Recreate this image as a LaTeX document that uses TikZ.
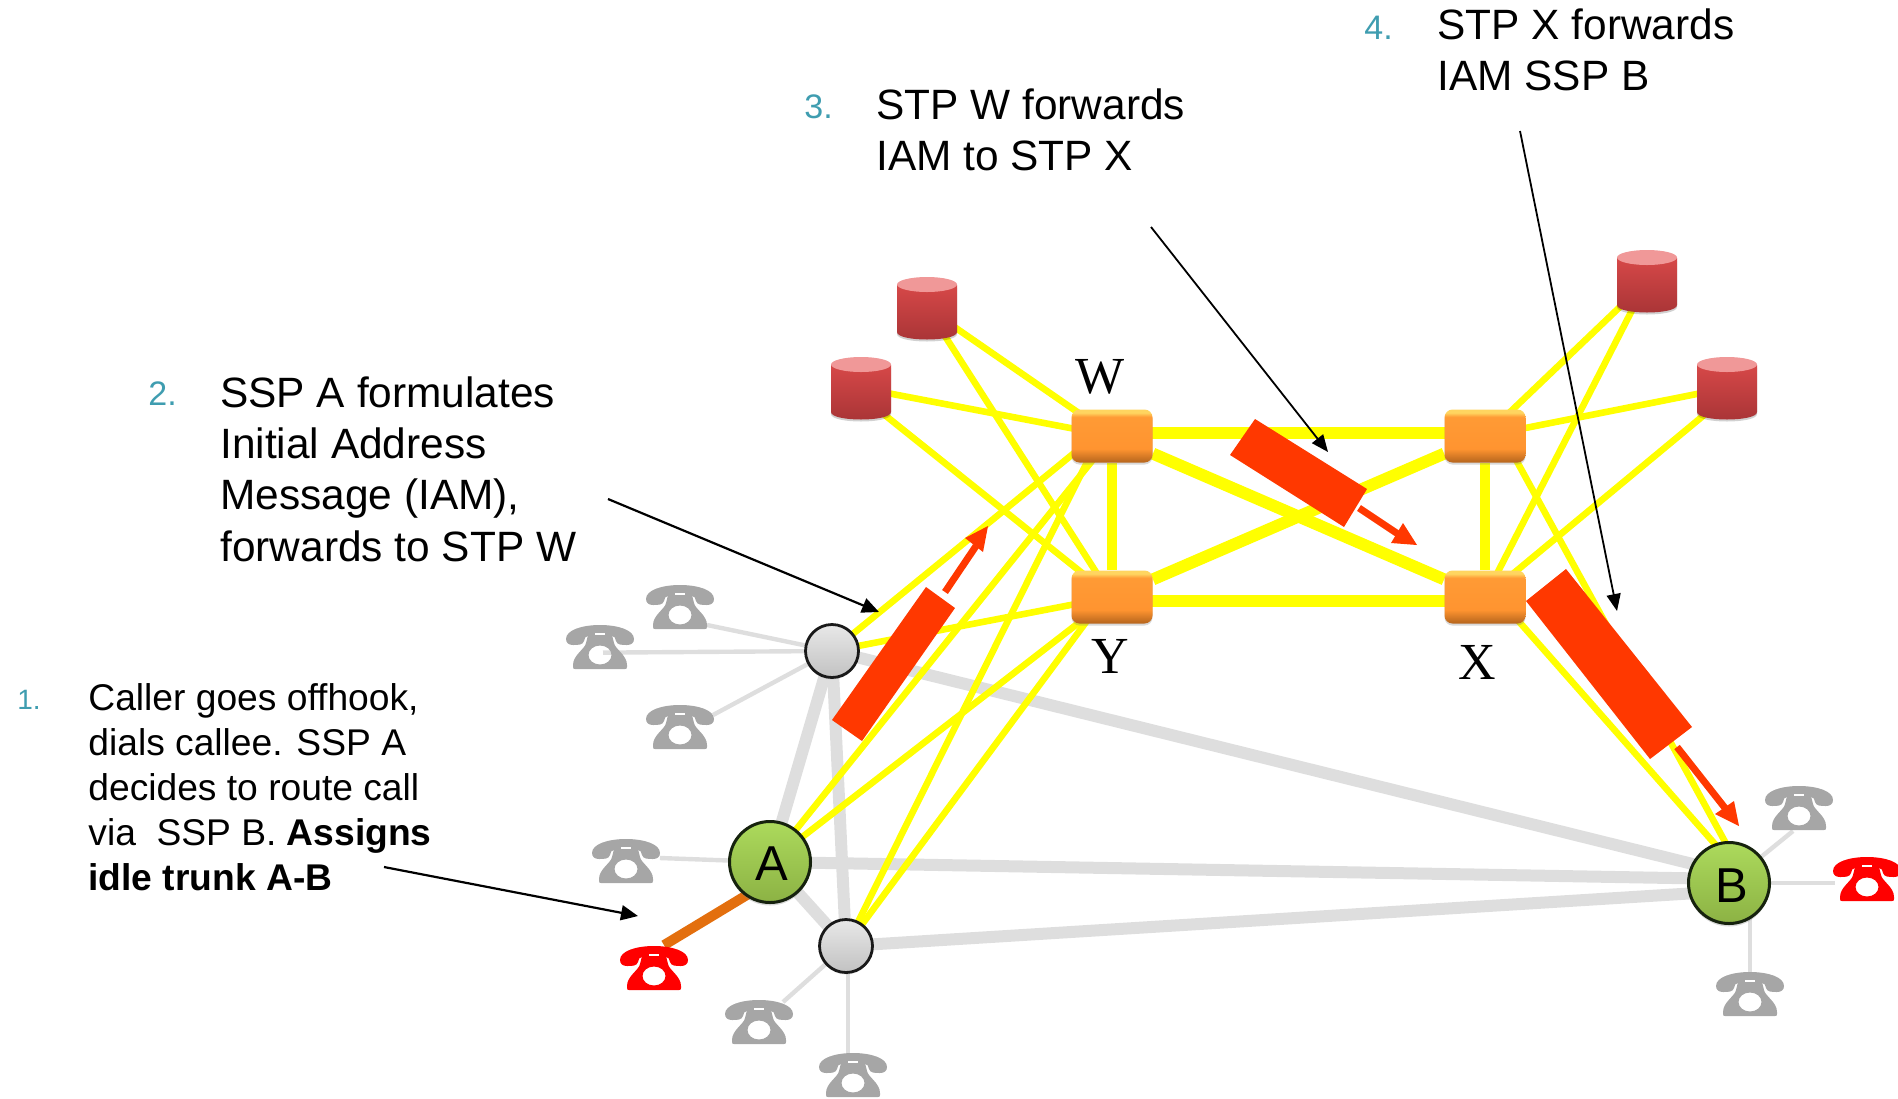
\documentclass[tikz,border=0pt]{standalone}
\usepackage{fontspec}
\setmainfont{Liberation Sans}
\newfontfamily\serifface{Liberation Serif}
\usetikzlibrary{arrows.meta,shadows,calc}
\definecolor{teal1}{HTML}{3F9DB0}
\definecolor{gline}{HTML}{DEDEDE}
\definecolor{yline}{HTML}{FFFF00}
\definecolor{redbar}{HTML}{FF3800}
\definecolor{phgray}{HTML}{A6A6A6}
\definecolor{orline}{HTML}{E36F0E}
\definecolor{ob1}{HTML}{B5651D}
\definecolor{ob2}{HTML}{FF9430}
\definecolor{ob3}{HTML}{FFD560}
\definecolor{gtop}{HTML}{ACDA5C}
\definecolor{gbot}{HTML}{8CB244}
\definecolor{ctop}{HTML}{D64848}
\definecolor{cbot}{HTML}{A83436}
\definecolor{clid}{HTML}{F09898}
\definecolor{edge}{HTML}{16220E}
\pgfdeclareverticalshading{orangebox}{100bp}{color(0bp)=(ob1); color(25bp)=(ob1); color(29bp)=(ob1!70!ob2); color(38bp)=(ob2); color(68bp)=(ob2!90!ob3); color(72bp)=(ob3); color(75bp)=(ob3); color(100bp)=(ob3)}
\pgfdeclarelayer{lines}
\pgfdeclarelayer{over}
\pgfsetlayers{lines,main,over}
\tikzset{
  grayline/.style={draw=gline,line width=6pt},
  phoneline/.style={draw=gline,line width=2.2pt},
  yellowthin/.style={draw=yline,line width=3.3pt},
  yellowthick/.style={draw=yline,line width=6pt},
  greennode/.style={circle,inner sep=0pt,minimum size=40.5pt,draw=edge,line width=1.5pt,top color=gtop,bottom color=gbot,drop shadow={opacity=.3,shadow xshift=0pt,shadow yshift=-1.5pt}},
  greynode/.style={circle,inner sep=0pt,minimum size=26.5pt,draw=black!90,line width=1.4pt,top color=black!9,bottom color=black!24,drop shadow={opacity=.25,shadow xshift=0pt,shadow yshift=-1pt}},
  stpnode/.style={rectangle,rounded corners=4pt,inner sep=0pt,minimum width=40.5pt,minimum height=26.5pt,shading=orangebox,drop shadow={opacity=.3,shadow xshift=0pt,shadow yshift=-1pt}},
  cylnode/.style={rectangle,inner sep=0pt,minimum width=30pt,minimum height=31pt},
  phonenode/.style={rectangle,inner sep=0pt,minimum width=34pt,minimum height=22.5pt},
  labeltext/.style={inner sep=0pt,anchor=north west,align=left,text=black},
  bigtext/.style={labeltext,font=\fontsize{21.2pt}{25.7pt}\selectfont},
  smalltext/.style={labeltext,font=\fontsize{18.6pt}{22.4pt}\selectfont},
  numtext/.style={inner sep=0pt,anchor=base west,text=teal1},
  stplabel/.style={inner sep=0pt,font=\serifface\fontsize{26pt}{26pt}\selectfont,text=black},
  balllabel/.style={inner sep=0pt,font=\fontsize{24.5pt}{24.5pt}\selectfont},
  callout/.style={draw=black,line width=1.1pt,-{Triangle[length=8.5pt,width=7.5pt]}},
  calloutthin/.style={draw=black,line width=.9pt,-{Triangle[length=8.5pt,width=7pt]}},
}
\newcommand{\phoneicon}[4]{% name, x, y, colour
  \node[phonenode] (#1) at (#2,#3) {};
  \begin{scope}[shift={(#2,#3)}]
    \fill[#4] (-34,-8) .. controls (-34,-17) and (-18,-22) .. (0,-22) .. controls (18,-22) and (34,-17) .. (34,-8) .. controls (34,-4) and (31,-2) .. (27,-2) .. controls (22,-2) and (17,-2) .. (16,-6) .. controls (16,-9) and (14,-11) .. (12,-11) -- (-12,-11) .. controls (-14,-11) and (-16,-9) .. (-16,-6) .. controls (-17,-2) and (-22,-2) .. (-27,-2) .. controls (-31,-2) and (-34,-4) .. (-34,-8) -- cycle;
    \fill[#4,even odd rule] (-12,-12) -- (-14,-4) .. controls (-15,2) and (-27,8) .. (-27,18) -- (-27,20) .. controls (-27,22) and (-26,22) .. (-25,22) -- (25,22) .. controls (26,22) and (27,22) .. (27,20) -- (27,18) .. controls (27,8) and (15,2) .. (14,-4) -- (12,-12) -- cycle (0,8) ellipse [x radius=11.5,y radius=9.5];
    \draw[white,line width=.6pt] (-5,-13) -- (5,-13);
  \end{scope}
}
\newcommand{\cylinderdrum}[3]{% name, x, y
  \node[cylnode] (#1) at (#2,#3) {};
  \begin{scope}[shift={(#2,#3)}]
    \fill[black,opacity=.18] (-30,-20) -- (-30,26) .. controls (-30,36) and (30,36) .. (30,26) -- (30,-20) -- cycle;
    \shade[top color=ctop,bottom color=cbot] (-30,-23) -- (-30,24) .. controls (-30,34) and (30,34) .. (30,24) -- (30,-23) -- cycle;
    \fill[clid] (0,-23.5) ellipse [x radius=30,y radius=7.5];
  \end{scope}
}
\begin{document}
\begin{tikzpicture}[x=0.5pt,y=-0.5pt]
\useasboundingbox (0,0) rectangle (1898,1098);

% switches
\node[greennode] (a) at (770,862) {};
\node[greennode] (b) at (1729,883) {};
\node[balllabel] (alab) at (772,864) {A};
\node[balllabel] (blab) at (1732,886) {B};
\node[greynode] (g1) at (832,651) {};
\node[greynode] (g2) at (846,946) {};
\node[stpnode] (w) at (1112,436) {};
\node[stpnode] (t) at (1485,436) {};
\node[stpnode] (y) at (1112,597) {};
\node[stpnode] (xx) at (1485,597) {};

% databases
\cylinderdrum{c1}{927}{308}
\cylinderdrum{c2}{861}{388}
\cylinderdrum{c3}{1647}{281}
\cylinderdrum{c4}{1727}{388}

% telephones
\phoneicon{p1}{680}{607}{phgray}
\phoneicon{p2}{600}{647}{phgray}
\phoneicon{p3}{680}{727}{phgray}
\phoneicon{p4}{626}{861}{phgray}
\phoneicon{pa}{654}{968}{red}
\phoneicon{p5}{759}{1022}{phgray}
\phoneicon{p6}{853}{1075}{phgray}
\phoneicon{p7}{1799}{808}{phgray}
\phoneicon{pb}{1867}{879}{red}
\phoneicon{p8}{1750}{994}{phgray}

\begin{pgfonlayer}{lines}
  % trunks
  \draw[grayline] (g1.center) -- (a.center);
  \draw[grayline] (g1.center) -- (g2.center);
  \draw[grayline] (a.center) -- (g2.center);
  \draw[grayline] (g1.center) -- ([yshift=5pt]b.center);
  \draw[grayline] (a.center) -- ([yshift=2pt]b.center);
  \draw[grayline] (g2.center) -- ([yshift=-4pt]b.center);
  % subscriber lines
  \draw[phoneline] (g1.center) -- ([xshift=13.5pt,yshift=-9pt]p1.center);
  \draw[phoneline] (g1.center) -- ([xshift=1.5pt,yshift=-2.8pt]p2.center);
  \draw[phoneline] (g1.center) -- ([xshift=16.5pt,yshift=6pt]p3.center);
  \draw[phoneline] (a.center) -- ([xshift=17pt,yshift=1.5pt]p4.center);
  \draw[phoneline] (g2.center) -- ([xshift=12pt,yshift=10pt]p5.center);
  \draw[phoneline] ([xshift=1pt]g2.center) -- ([xshift=-2.5pt,yshift=11pt]p6.center);
  \draw[phoneline] (b.center) -- ([xshift=-3pt,yshift=-11.5pt]p7.center);
  \draw[phoneline] (b.center) -- ([xshift=-16pt,yshift=-2pt]pb.center);
  \draw[phoneline] ([xshift=10.5pt]b.center) -- ([yshift=11pt]p8.center);
  \draw[draw=orline,line width=5pt] ([yshift=-9.5pt]a.center) -- ([xshift=5pt]pa.north);
  % signalling links
  \draw[yellowthick] ([yshift=1.5pt]w.center) -- ([yshift=1.5pt]t.center);
  \draw[yellowthick] ([yshift=-2pt]y.center) -- ([yshift=-2pt]xx.center);
  \draw[yellowthick] (w) -- (xx);
  \draw[yellowthick] (y) -- (t);
  \draw[draw=yline,line width=5pt] (w) -- (y);
  \draw[draw=yline,line width=5pt] (t) -- (xx);
  \draw[yellowthin] (c1.center) -- (w.center);
  \draw[yellowthin] (c1.center) -- (y.center);
  \draw[yellowthin] (c2.center) -- (w.center);
  \draw[yellowthin] ([yshift=-4pt]c2.center) -- (y.center);
  \draw[yellowthin] (c3.center) -- (t.center);
  \draw[yellowthin] (c3.center) -- (xx.center);
  \draw[yellowthin] (c4.center) -- (t.center);
  \draw[yellowthin] ([yshift=-4pt]c4.center) -- (xx.center);
  \draw[yellowthin] (g1.center) -- ([yshift=7pt]w.center);
  \draw[yellowthin] (g1.center) -- (y.center);
  \draw[yellowthin] (a.center) -- (w.center);
  \draw[yellowthin] (a.center) -- (y.center);
  \draw[yellowthin] (g2.center) -- ([xshift=-6pt]w.center);
  \draw[yellowthin] (g2.center) -- ([yshift=5pt]y.center);
  \draw[yellowthin] ([xshift=9pt]t.center) -- ([xshift=3pt,yshift=11.5pt]b.center);
  \draw[yellowthin] ([yshift=7pt]xx.center) -- ([yshift=11.5pt]b.center);
\end{pgfonlayer}

\begin{pgfonlayer}{over}
  % message bars and direction arrows
  \fill[redbar] (926,587) -- (955,608) -- (862,741) -- (832,720) -- cycle;
  \draw[redbar,line width=3.5pt] (945,592) -- (976,546);
  \fill[redbar] (988,526) -- (983,552) -- (965,538) -- cycle;
  \fill[redbar] (1255,419) -- (1367,489) -- (1344,527) -- (1230,455) -- cycle;
  \draw[redbar,line width=3.5pt] (1359,508) -- (1398,534);
  \fill[redbar] (1417,545) -- (1391,543) -- (1403,523) -- cycle;
  \fill[redbar] (1566,569) -- (1692,727) -- (1650,759) -- (1526,601) -- cycle;
  \draw[redbar,line width=3.5pt] (1677,747) -- (1725,808);
  \fill[redbar] (1739,826) -- (1715,814) -- (1734,801) -- cycle;
  % callouts
  \coordinate (s1) at (384,867); \coordinate (e1) at (638,916);
  \coordinate (s2) at (608,499); \coordinate (e2) at (879,612);
  \coordinate (s3) at (1151,227); \coordinate (e3) at (1328,452);
  \coordinate (s4) at (1520,131); \coordinate (e4) at (1617,611);
  \draw[callout] (s1) -- (e1);
  \draw[callout] (s2) -- (e2);
  \draw[calloutthin] (s3) -- (e3);
  \draw[calloutthin] (s4) -- (e4);
\end{pgfonlayer}

% labels
\node[stplabel] (lw) at (1100,377) {W};
\node[stplabel] (ly) at (1110,656) {Y};
\node[stplabel] (lx) at (1477,662) {X};

\node[smalltext] (t1) at (88,683.5) {Caller goes offhook,\\dials callee. SSP A\\decides to route call\\via\ \ SSP B. \textbf{Assigns}\\\textbf{idle trunk A-B}};
\node[numtext,font=\fontsize{14pt}{14pt}\selectfont] (n1) at (17,709) {1.};
\node[bigtext] (t2) at (220,376) {SSP A formulates\\Initial Address\\Message (IAM),\\forwards to STP W};
\node[numtext,font=\fontsize{17pt}{17pt}\selectfont] (n2) at (148,405) {2.};
\node[bigtext] (t3) at (876,88) {STP W forwards\\IAM to STP X};
\node[numtext,font=\fontsize{17pt}{17pt}\selectfont] (n3) at (804,118) {3.};
\node[bigtext] (t4) at (1437,8) {STP X forwards\\IAM SSP B};
\node[numtext,font=\fontsize{17pt}{17pt}\selectfont] (n4) at (1364,39) {4.};
\end{tikzpicture}
\end{document}
